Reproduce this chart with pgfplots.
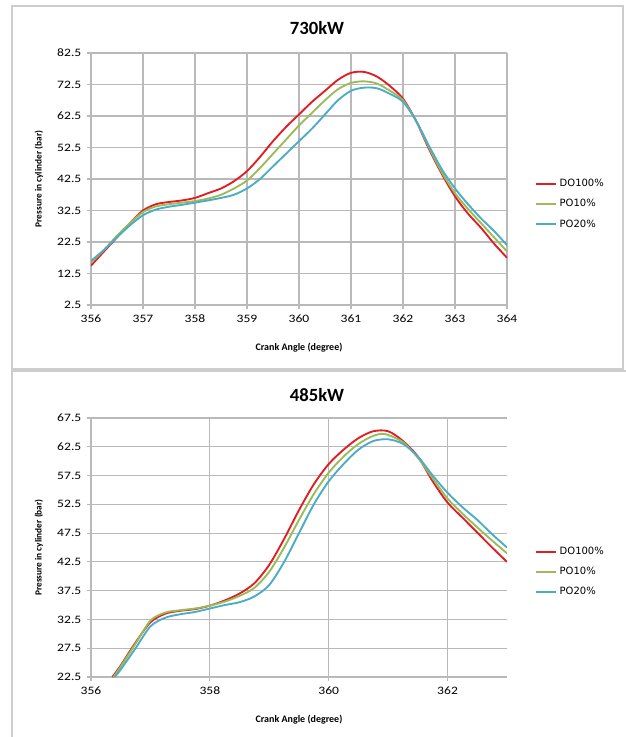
\documentclass[border=0pt]{standalone}
\usepackage{fontspec}
\setmainfont{Carlito}
\newfontfamily\legfont{DejaVu Sans}
\usepackage{pgfplots}
\pgfplotsset{compat=1.18}

\definecolor{cRed}{RGB}{224,30,34}
\definecolor{cGreen}{RGB}{155,187,89}
\definecolor{cBlue}{RGB}{75,172,198}
\definecolor{cGrid}{RGB}{185,185,185}
\definecolor{cFrame}{RGB}{205,205,205}

\pgfplotsset{
  panel/.style={
    scale only axis,
    width=312pt,
    axis x line*=bottom,
    axis y line*=left,
    axis line style={cGrid, line width=0.8pt},
    grid=major,
    grid style={cGrid, line width=0.8pt},
    tick align=outside,
    major tick length=3pt,
    tick style={cGrid, line width=0.8pt},
    /pgf/number format/assume math mode=true,
    ticklabel style={font=\fontsize{8.5}{9}\selectfont, xscale=1.2},
    yticklabel style={/pgf/number format/.cd, fixed, fixed zerofill, precision=1},
    xticklabel style={yshift=-1pt, /pgf/number format/.cd, fixed, 1000 sep={}},
    xlabel={Crank Angle (degree)},
    ylabel={Pressure in cylinder (bar)},
    xlabel style={font=\bfseries\fontsize{7.5}{8}\selectfont, yshift=-8pt},
    ylabel style={font=\bfseries\fontsize{7}{8}\selectfont, yshift=3pt},
    legend cell align=left,
    legend style={draw=none, fill=none, anchor=west, inner xsep=0pt,
      font=\legfont\fontsize{7.5}{8}\selectfont, row sep=4pt},
    legend image code/.code={\draw[#1] (0pt,0pt) -- (15pt,0pt);},
    every axis plot/.append style={line width=1.4pt, smooth, no marks},
  }
}

\begin{document}
\begin{tikzpicture}
% page size and panel frames (1px = 0.75pt)
\path[use as bounding box] (0,0) rectangle (468.75pt,-552.75pt);
\draw[cFrame, line width=0.9pt] (9pt,-4.5pt) rectangle (467.25pt,-276.75pt);
\draw[cFrame, line width=0.9pt] (9pt,-278.25pt) rectangle (470pt,-555pt);
\node[font=\bfseries\fontsize{14}{16}\selectfont] at (237.75pt,-21pt) {730kW};
\node[font=\bfseries\fontsize{14}{16}\selectfont] at (237.75pt,-296.25pt) {485kW};

\begin{axis}[panel,
    at={(68.25pt,-228.75pt)}, anchor=south west,
    height=189pt,
    xmin=356, xmax=364, ymin=2.5, ymax=82.5,
    xtick={356,357,...,364},
    ytick={2.5,12.5,...,82.5},
    legend style={at={(rel axis cs:1.067,0.40)}},
]
\addplot[cRed] coordinates {
(356,15.0)(356.25,19.5)(356.5,24.0)(356.75,28.5)(357,32.5)(357.25,34.5)(357.5,35.2)(357.75,35.7)
(358,36.5)(358.25,38.0)(358.5,39.5)(358.75,41.8)(359,45.0)(359.25,49.5)(359.5,54.5)(359.75,59.0)
(360,63.0)(360.25,67.0)(360.5,70.5)(360.75,74.0)(361,76.2)(361.25,76.5)(361.5,75.0)(361.75,72.0)
(362,68.0)(362.25,61.0)(362.5,52.0)(362.75,44.0)(363,37.0)(363.25,31.5)(363.5,27.0)(363.75,22.0)(364,17.5)
};
\addplot[cGreen] coordinates {
(356,16.0)(356.25,20.0)(356.5,24.5)(356.75,28.5)(357,32.0)(357.25,33.8)(357.5,34.5)(357.75,35.0)
(358,35.5)(358.25,36.3)(358.5,37.5)(358.75,39.5)(359,42.0)(359.25,46.0)(359.5,50.5)(359.75,55.0)
(360,59.5)(360.25,63.5)(360.5,67.5)(360.75,71.0)(361,73.0)(361.25,73.5)(361.5,72.8)(361.75,70.5)
(362,67.5)(362.25,61.0)(362.5,52.5)(362.75,44.5)(363,38.0)(363.25,33.0)(363.5,28.5)(363.75,24.0)(364,19.5)
};
\addplot[cBlue] coordinates {
(356,16.5)(356.25,20.0)(356.5,24.0)(356.75,27.8)(357,31.0)(357.25,32.8)(357.5,33.7)(357.75,34.3)
(358,35.0)(358.25,35.7)(358.5,36.5)(358.75,37.5)(359,39.5)(359.25,42.5)(359.5,46.5)(359.75,50.5)
(360,54.5)(360.25,58.5)(360.5,63.0)(360.75,67.5)(361,70.5)(361.25,71.5)(361.5,71.3)(361.75,69.5)
(362,67.0)(362.25,61.0)(362.5,53.0)(362.75,45.5)(363,39.5)(363.25,34.5)(363.5,30.0)(363.75,26.0)(364,21.5)
};
\legend{DO100\%, PO10\%, PO20\%}
\end{axis}

\begin{axis}[panel,
    at={(68.25pt,-507.75pt)}, anchor=south west,
    height=194.25pt,
    xmin=356, xmax=363, ymin=22.5, ymax=67.5,
    xtick={356,358,360,362},
    ytick={22.5,27.5,...,67.5},
    legend style={at={(rel axis cs:1.067,0.405)}},
]
\addplot[cRed] coordinates {
(356.36,22.5)(356.5,24.5)(356.75,28.5)(357,32.0)(357.25,33.5)(357.5,34.0)(357.75,34.3)
(358,34.9)(358.25,35.8)(358.5,37.0)(358.75,38.8)(359,42.0)(359.25,46.5)(359.5,51.5)(359.75,56.0)
(360,59.5)(360.25,62.0)(360.5,64.0)(360.75,65.2)(361,65.2)(361.25,63.5)(361.5,60.8)(361.75,56.5)
(362,52.8)(362.25,50.2)(362.5,47.6)(362.75,45.0)(363,42.5)
};
\addplot[cGreen] coordinates {
(356.38,22.5)(356.5,24.3)(356.75,28.3)(357,32.3)(357.25,33.7)(357.5,34.1)(357.75,34.4)
(358,34.9)(358.25,35.6)(358.5,36.6)(358.75,38.0)(359,40.8)(359.25,45.0)(359.5,49.8)(359.75,54.3)
(360,58.0)(360.25,60.8)(360.5,63.0)(360.75,64.4)(360.95,64.7)(361.25,63.3)(361.5,60.6)(361.75,57.0)
(362,53.5)(362.25,50.9)(362.5,48.5)(362.75,46.2)(363,44.0)
};
\addplot[cBlue] coordinates {
(356.4,22.5)(356.5,23.8)(356.75,27.5)(357,31.3)(357.25,32.8)(357.5,33.4)(357.75,33.8)
(358,34.4)(358.25,35.0)(358.5,35.5)(358.75,36.5)(359,38.5)(359.25,42.5)(359.5,47.5)(359.75,52.5)
(360,56.5)(360.25,59.5)(360.5,62.0)(360.75,63.5)(361,63.8)(361.25,63.0)(361.5,60.8)(361.75,57.5)
(362,54.5)(362.25,52.0)(362.5,49.8)(362.75,47.3)(363,45.0)
};
\legend{DO100\%, PO10\%, PO20\%}
\end{axis}
\end{tikzpicture}
\end{document}
